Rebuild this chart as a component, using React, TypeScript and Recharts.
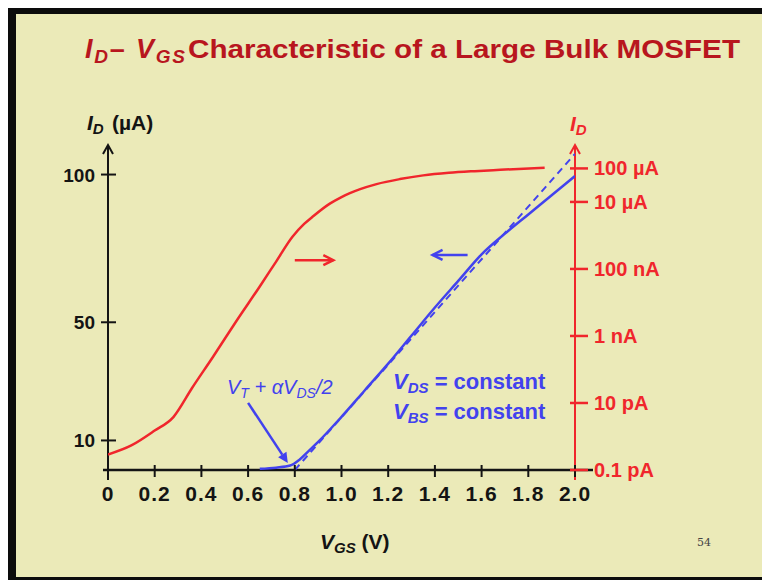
import { ComposedChart, Line, XAxis, YAxis, ReferenceLine } from 'recharts'

// V_GS axis ticks
const vgsTicks = [0, 0.2, 0.4, 0.6, 0.8, 1.0, 1.2, 1.4, 1.6, 1.8, 2.0]

// left axis, linear I_D in uA
const linTicks = [10, 50, 100]

// right axis, log I_D in A
const logTicks = [1e-13, 1e-11, 1e-9, 1e-7, 1e-5, 1e-4]
const logTickLabels = ['0.1 pA', '10 pA', '1 nA', '100 nA', '10 \u00b5A', '100 \u00b5A']

// red curve: log I_D (A) vs V_GS
const logVgs = [0, 0.1, 0.2, 0.28, 0.36, 0.45, 0.55, 0.65, 0.72, 0.79, 0.84, 0.88, 0.95, 1.0, 1.08, 1.15, 1.25, 1.35, 1.46, 1.57, 1.68, 1.87]
const logId = [2.9e-13, 5.4e-13, 1.5e-12, 3.8e-12, 2.8e-11, 2.4e-10, 2.8e-9, 3.0e-8, 1.66e-7, 9.1e-7, 2.2e-6, 3.8e-6, 8.9e-6, 1.4e-5, 2.4e-5, 3.4e-5, 4.8e-5, 6.2e-5, 7.4e-5, 8.3e-5, 9.1e-5, 1.05e-4]

// blue curve: linear I_D (uA) vs V_GS
const linVgs = [0.65, 0.72, 0.78, 0.82, 0.86, 0.9, 1.0, 1.1, 1.2, 1.3, 1.4, 1.5, 1.6, 1.7, 1.8, 1.9, 2.0]
const linId = [0.4, 0.8, 1.5, 3.5, 6.5, 9.5, 18, 27, 36, 45.5, 55, 64, 73, 80, 86.5, 93, 99.5]

// dashed extrapolation of the linear region
const extVgs = [0.8, 2.0]
const extId = [0, 107]

const redData = logVgs.map((v, i) => ({ v, id: logId[i] }))
const blueData = linVgs.map((v, i) => ({ v, id: linId[i] }))
const extData = extVgs.map((v, i) => ({ v, id: extId[i] }))

const INK = '#141414'
const RED = '#f0262c'
const BLUE = '#4242ee'
const TITLE = '#b8161e'
const CREAM = '#ebeab8'
const FONT = '"Liberation Sans", Arial, sans-serif'

const fmtV = (v: number) => (v === 0 ? '0' : v.toFixed(1))

const XTick = ({ x, y, payload }: any) => (
  <g>
    <line x1={x} x2={x} y1={y - 5} y2={y + 7} stroke={INK} strokeWidth={2} />
    <text x={x} y={y + 31} textAnchor='middle' fontSize={21} letterSpacing={1} fontWeight='bold' fill={INK} fontFamily={FONT}>
      {fmtV(payload.value)}
    </text>
  </g>
)

const LeftTick = ({ x, y, payload }: any) => (
  <g>
    <line x1={x - 7} x2={x + 8} y1={y} y2={y} stroke={INK} strokeWidth={2} />
    <text x={x - 13} y={y + 7} textAnchor='end' fontSize={19} fontWeight='bold' fill={INK} fontFamily={FONT}>
      {payload.value}
    </text>
  </g>
)

const RightTick = ({ x, y, payload }: any) => {
  const idx = logTicks.findIndex((t) => Math.abs(t - payload.value) / t < 1e-6)
  return (
    <g>
      <line x1={x - 5} x2={x + 13} y1={y} y2={y} stroke={RED} strokeWidth={2.5} />
      <text x={x + 19} y={y + 7} textAnchor='start' fontSize={20} fontWeight='bold' fill={RED} fontFamily={FONT}>
        {logTickLabels[idx]}
      </text>
    </g>
  )
}

// vertical axis with arrow on top
const vAxis = (color: string) => (p: any) => {
  const top = Math.min(p.y1, p.y2)
  const bot = Math.max(p.y1, p.y2)
  const x = p.x1
  return (
    <g>
      <line x1={x} x2={x} y1={top} y2={bot + 10} stroke={color} strokeWidth={2} />
      <polyline points={`${x - 5},${top + 9} ${x},${top} ${x + 5},${top + 9}`} fill='none' stroke={color} strokeWidth={2} />
    </g>
  )
}

const hAxis = (p: any) => {
  const l = Math.min(p.x1, p.x2)
  const r = Math.max(p.x1, p.x2)
  return <line x1={l - 5} x2={r + 18} y1={p.y1} y2={p.y2} stroke={INK} strokeWidth={2.5} />
}

// arrow with head at the second point
const arrow = (color: string, filled: boolean) => (p: any) => {
  const { x1, y1, x2, y2 } = p
  const a = Math.atan2(y2 - y1, x2 - x1)
  const h = 10
  const w = 5
  const bx = x2 - h * Math.cos(a)
  const by = y2 - h * Math.sin(a)
  const lx = bx + w * Math.sin(a)
  const ly = by - w * Math.cos(a)
  const rx = bx - w * Math.sin(a)
  const ry = by + w * Math.cos(a)
  return (
    <g>
      <line x1={x1} y1={y1} x2={filled ? bx : x2} y2={filled ? by : y2} stroke={color} strokeWidth={2.5} />
      {filled ? (
        <polygon points={`${lx},${ly} ${x2},${y2} ${rx},${ry}`} fill={color} />
      ) : (
        <polyline points={`${lx},${ly} ${x2},${y2} ${rx},${ry}`} fill='none' stroke={color} strokeWidth={2.5} />
      )}
    </g>
  )
}

export default function App() {
  return (
    <div style={{ position: 'absolute', left: 0, top: 0, width: 762, height: 580, background: '#fff', fontFamily: FONT }}>
      <div style={{ position: 'absolute', left: 8, top: 8, right: 0, bottom: 0, background: '#0c0c0c' }} />
      <div style={{ position: 'absolute', left: 16, top: 14, right: 0, bottom: 3, background: CREAM }} />
      <div style={{ position: 'absolute', left: 0, top: 0 }}>
        <ComposedChart width={762} height={580} margin={{ top: 145, right: 0, bottom: 0, left: 0 }}>
          <XAxis
            type='number'
            dataKey='v'
            domain={[0, 2]}
            ticks={vgsTicks}
            interval={0}
            height={110}
            axisLine={false}
            tickLine={false}
            tickSize={0}
            tickMargin={0}
            tick={<XTick />}
            allowDataOverflow
          />
          <YAxis
            yAxisId='left'
            type='number'
            domain={[0, 110]}
            ticks={linTicks}
            interval={0}
            width={108}
            axisLine={false}
            tickLine={false}
            tickSize={0}
            tickMargin={0}
            tick={<LeftTick />}
            allowDataOverflow
          />
          <YAxis
            yAxisId='right'
            orientation='right'
            type='number'
            scale='log'
            domain={[1e-13, 5e-4]}
            ticks={logTicks}
            interval={0}
            width={187}
            axisLine={false}
            tickLine={false}
            tickSize={0}
            tickMargin={0}
            tick={<RightTick />}
            allowDataOverflow
          />
          <ReferenceLine yAxisId='left' x={0} ifOverflow='visible' shape={vAxis(INK)} />
          <ReferenceLine yAxisId='right' x={2} ifOverflow='visible' shape={vAxis(RED)} />
          <ReferenceLine yAxisId='left' y={0} ifOverflow='visible' shape={hAxis} />
          <ReferenceLine
            yAxisId='left'
            ifOverflow='visible'
            segment={[{ x: 0.8, y: 71 }, { x: 0.965, y: 71 }]}
            shape={arrow(RED, false)}
          />
          <ReferenceLine
            yAxisId='left'
            ifOverflow='visible'
            segment={[{ x: 1.54, y: 72.8 }, { x: 1.39, y: 72.8 }]}
            shape={arrow(BLUE, false)}
          />
          <ReferenceLine
            yAxisId='left'
            ifOverflow='visible'
            segment={[{ x: 0.6, y: 22.7 }, { x: 0.77, y: 2.4 }]}
            shape={arrow(BLUE, true)}
          />
          <Line
            yAxisId='right'
            data={redData}
            dataKey='id'
            type='monotone'
            stroke={RED}
            strokeWidth={2.5}
            dot={false}
            isAnimationActive={false}
          />
          <Line
            yAxisId='left'
            data={extData}
            dataKey='id'
            type='linear'
            stroke={BLUE}
            strokeWidth={2}
            strokeDasharray='7 5'
            dot={false}
            isAnimationActive={false}
          />
          <Line
            yAxisId='left'
            data={blueData}
            dataKey='id'
            type='monotone'
            stroke={BLUE}
            strokeWidth={2.5}
            dot={false}
            isAnimationActive={false}
          />
        </ComposedChart>
      </div>
      <svg width={762} height={580} style={{ position: 'absolute', left: 0, top: 0, pointerEvents: 'none' }} fontFamily={FONT} fontWeight='bold'>
        <text x={85} y={58} fontSize={27} fill={TITLE} textLength={100} lengthAdjust='spacing'>
          <tspan fontStyle='italic'>I</tspan>
          <tspan fontStyle='italic' fontSize={19} dy={5}>D</tspan>
          <tspan dy={-5}>{'\u2013 '}</tspan>
          <tspan fontStyle='italic'>V</tspan>
          <tspan fontStyle='italic' fontSize={19} dy={5}>GS</tspan>
        </text>
        <text x={188} y={58} fontSize={26} fill={TITLE} textLength={552} lengthAdjust='spacingAndGlyphs'>
          Characteristic of a Large Bulk MOSFET
        </text>
        <text x={87} y={130} fontSize={21} fill={INK}>
          <tspan fontStyle='italic'>I</tspan>
          <tspan fontStyle='italic' fontSize={15} dy={4}>D</tspan>
          <tspan x={112} dy={-4}>{'(\u00b5A)'}</tspan>
        </text>
        <text x={570} y={131} fontSize={21} fill={RED}>
          <tspan fontStyle='italic'>I</tspan>
          <tspan fontStyle='italic' fontSize={15} dy={4}>D</tspan>
        </text>
        <text x={320} y={549} fontSize={21} fill={INK}>
          <tspan fontStyle='italic'>V</tspan>
          <tspan fontStyle='italic' fontSize={15} dy={4}>GS</tspan>
          <tspan dy={-4}>{' (V)'}</tspan>
        </text>
        <text x={227} y={394} fontSize={20} fill={BLUE} fontWeight='normal' fontStyle='italic'>
          <tspan>V</tspan>
          <tspan fontSize={14} dy={4}>T</tspan>
          <tspan dy={-4}>{' + \u03b1V'}</tspan>
          <tspan fontSize={14} dy={4}>DS</tspan>
          <tspan dy={-4}>/2</tspan>
        </text>
        <text x={393} y={389} fontSize={22} fill={BLUE}>
          <tspan fontStyle='italic'>V</tspan>
          <tspan fontStyle='italic' fontSize={15} dy={4}>DS</tspan>
          <tspan dy={-4}>{' = constant'}</tspan>
        </text>
        <text x={393} y={419} fontSize={22} fill={BLUE}>
          <tspan fontStyle='italic'>V</tspan>
          <tspan fontStyle='italic' fontSize={15} dy={4}>BS</tspan>
          <tspan dy={-4}>{' = constant'}</tspan>
        </text>
        <text x={697} y={546} fontSize={11} fill='#444' fontWeight='normal' fontFamily='"DejaVu Serif", serif'>
          54
        </text>
      </svg>
    </div>
  )
}
